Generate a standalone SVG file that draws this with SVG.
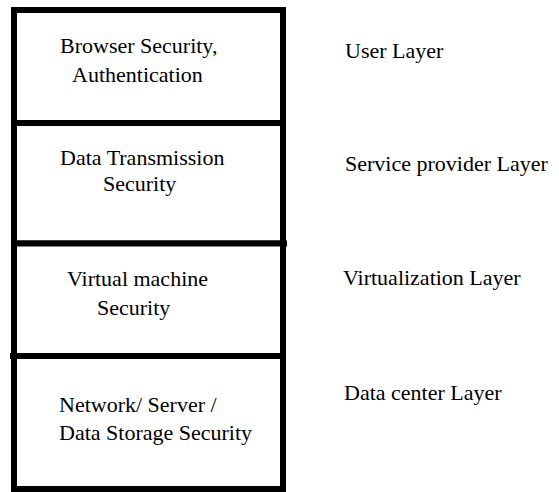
<svg xmlns="http://www.w3.org/2000/svg" width="559" height="492" viewBox="0 0 559 492">
  <style>
    .box { fill: #ffffff; stroke: #000000; stroke-width: 6; }
    .t { font-family: "Liberation Serif", "Times New Roman", serif; font-size: 22px; fill: #000000; }
  </style>
  <rect x="0" y="0" width="559" height="492" fill="#ffffff"/>

  <!-- Layer 1: user -->
  <g id="user-layer">
    <rect class="box" x="14" y="10" width="269" height="113"/>
    <text class="t" x="60" y="53">Browser Security,</text>
    <text class="t" x="72" y="82">Authentication</text>
    <text class="t" x="345" y="58">User Layer</text>
  </g>

  <!-- Layer 2: service provider -->
  <g id="service-provider-layer">
    <rect class="box" x="14" y="123" width="269" height="120.5"/>
    <text class="t" x="60" y="165">Data Transmission</text>
    <text class="t" x="103" y="191">Security</text>
    <text class="t" x="345" y="171">Service provider Layer</text>
  </g>

  <!-- Layer 3: virtualization -->
  <g id="virtualization-layer">
    <rect class="box" x="14" y="243.5" width="269" height="112.5"/>
    <line x1="283" y1="243.5" x2="287" y2="243.5" stroke="#000" stroke-width="6"/>
    <text class="t" x="67" y="286">Virtual machine</text>
    <text class="t" x="97" y="315">Security</text>
    <text class="t" x="343" y="285">Virtualization Layer</text>
  </g>

  <!-- Layer 4: data center -->
  <g id="data-center-layer">
    <rect class="box" x="14" y="356" width="269" height="133"/>
    <line x1="10" y1="356" x2="14" y2="356" stroke="#000" stroke-width="6"/>
    <text class="t" x="59" y="412">Network/ Server /</text>
    <text class="t" x="59" y="440">Data Storage Security</text>
    <text class="t" x="344" y="400">Data center Layer</text>
  </g>
</svg>
